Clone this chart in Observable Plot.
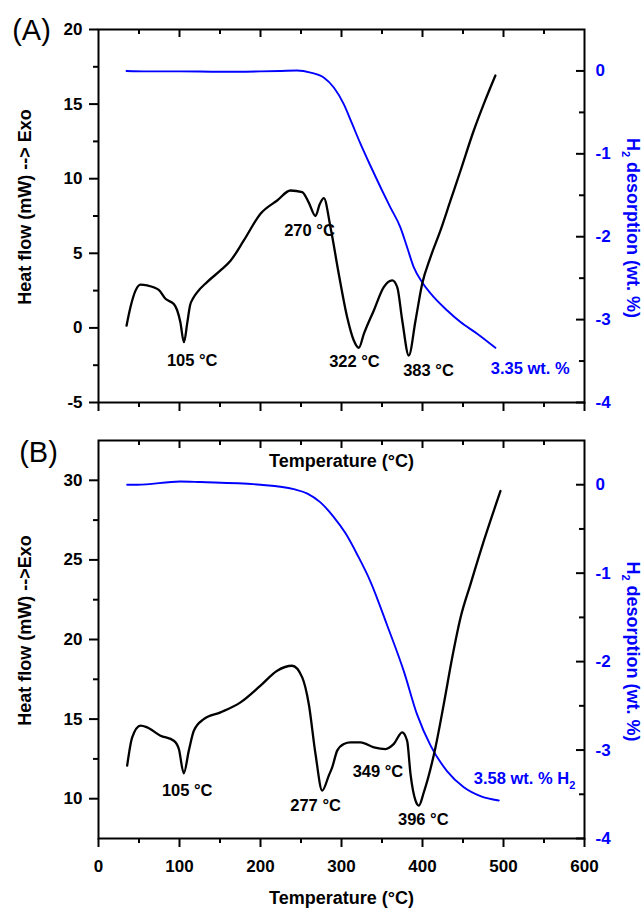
<!DOCTYPE html>
<html><head><meta charset="utf-8">
<script src="https://cdn.jsdelivr.net/npm/d3@7"></script>
<script src="https://cdn.jsdelivr.net/npm/@observablehq/plot@0.6"></script>
<style>
body{margin:0;background:#fff;}
#wrap{position:relative;width:644px;height:908px;}
#wrap svg{position:absolute;left:0;}
</style></head><body><div id="wrap"></div>
<script>
// ---------- Panel A data ----------
const tempA = [34.6, 39.5, 45.7, 51.9, 60, 74.4, 82.7, 93, 97, 101, 105.5, 109.5, 113, 117, 122, 134, 150.6, 163, 179.4, 200, 220.6, 237, 251.5, 259.6, 267.9, 273.2, 278.2, 286.4, 296.7, 307, 315.2, 321.4, 327.6, 339.9, 352.2, 362.6, 368.8, 375, 383.1, 391.4, 399.6, 409.9, 422.2, 434.6, 447, 463.3, 475.7, 490];
const heatA = [0.15, 1.4, 2.5, 2.9, 2.85, 2.55, 1.95, 1.6, 1.2, 0.4, -0.96, 0.3, 1.5, 2.0, 2.4, 3.07, 3.85, 4.5, 5.86, 7.65, 8.54, 9.21, 9.1, 8.4, 7.5, 8.3, 8.7, 6.75, 3.6, 0.72, -0.84, -1.33, -0.4, 1.17, 2.73, 3.18, 2.73, 0.5, -1.85, 0.5, 2.96, 4.74, 6.53, 8.54, 10.55, 13.23, 15.02, 16.92];
const h2TempA = [34.6, 60, 100, 150, 200, 225, 245, 262, 278, 290.5, 302.8, 313.2, 323.5, 336, 348, 360, 372.8, 381.1, 389.3, 399.6, 414, 430.5, 446.9, 467.5, 490];
const h2A = [0, -0.005, -0.005, -0.01, -0.005, 0, 0.005, -0.02, -0.08, -0.2, -0.4, -0.64, -0.88, -1.15, -1.4, -1.64, -1.89, -2.13, -2.37, -2.55, -2.73, -2.89, -3.03, -3.17, -3.34];
const peakTextA = ["105 °C", "270 °C", "322 °C", "383 °C"];
const peakXA = [115.7, 260.5, 316, 407.4];
const peakYA = [-2.2, 6.5, -2.3, -2.85];
const totalTextA = "3.35 wt. %";
const totalXA = 533, totalYA = -2.72;

// ---------- Panel B data ----------
const tempB = [35.4, 41.6, 51.9, 60, 76.5, 93, 99.2, 105.3, 111.5, 117.7, 130, 150.6, 175.3, 200, 220.6, 239, 251.5, 259.6, 267.9, 276.2, 284.3, 288.5, 294.7, 302.9, 311.1, 323.5, 340, 354.3, 364.6, 374.9, 381, 385.2, 391.4, 395.5, 401.6, 416, 426.3, 436.7, 447, 459.3, 475.7, 496.3];
const heatB = [12.08, 13.85, 14.59, 14.48, 13.96, 13.64, 13.12, 11.6, 13.02, 14.27, 15.0, 15.42, 16.05, 17.1, 18.04, 18.35, 17.62, 15.95, 12.81, 10.51, 11.45, 11.97, 13.02, 13.44, 13.54, 13.54, 13.23, 13.12, 13.44, 14.17, 13.64, 11.55, 9.88, 9.57, 10.4, 13.22, 15.95, 18.87, 21.38, 23.48, 26.19, 29.33];
const h2TempB = [35.4, 47.8, 101, 126, 200, 241, 258, 274, 290, 305, 320, 336, 356, 377, 393.4, 410, 430.5, 451, 471.6, 494.2];
const h2B = [0, 0, 0.037, 0.03, 0, -0.05, -0.1, -0.2, -0.36, -0.55, -0.8, -1.1, -1.58, -2.11, -2.6, -2.95, -3.24, -3.42, -3.52, -3.57];
const peakTextB = ["105 °C", "277 °C", "349 °C", "396 °C"];
const peakXB = [109.5, 268, 345, 401];
const peakYB = [10.5, 9.57, 11.72, 8.67];
const totalTextB = "3.58 wt. % H2";
const totalXB = 526, totalYB = 11.24;

// ---------- Axes ----------
const xDomain = [0, 600];
const xMajor = [0, 100, 200, 300, 400, 500, 600];
const xMinor = [50, 150, 250, 350, 450, 550];
const rightDomain = [-4, 0.5];
const rightMajor = [-4, -3, -2, -1, 0];
const rightMinor = [-3.5, -2.5, -1.5, -0.5];
const yDomainA = [-5, 20];
const yMajorA = [-5, 0, 5, 10, 15, 20];
const yMinorA = [-2.5, 2.5, 7.5, 12.5, 17.5];
const yDomainB = [7.5, 32.5];
const yMajorB = [10, 15, 20, 25, 30];
const yMinorB = [12.5, 17.5, 22.5, 27.5];

const FONT = '"Liberation Sans", Arial, Helvetica, sans-serif';
const BLUE = "#0000ff";
const TICK_FS = 17, TITLE_FS = 18, NOTE_FS = 16.5;

function panel(cfg) {
  const W = 644, mL = 98, mR = 60;
  const innerW = W - mL - mR;
  const innerH = cfg.height - cfg.mT - cfg.mB;
  const toLeft = d3.scaleLinear().domain(rightDomain).range(cfg.yDomain);
  const heat = cfg.temp.map((t, i) => ({t, v: cfg.heat[i]}));
  const h2 = cfg.h2t.map((t, i) => ({t, v: cfg.h2[i]}));
  const peaks = cfg.peakText.map((s, i) => ({s, x: cfg.peakX[i], y: cfg.peakY[i]}));
  const center = {textAnchor: "middle", lineAnchor: "middle"};
  const svg = Plot.plot({
    width: W, height: cfg.height,
    marginLeft: mL, marginRight: mR, marginTop: cfg.mT, marginBottom: cfg.mB,
    style: {background: "transparent", fontFamily: FONT, fontSize: TICK_FS + "px", fontWeight: "bold", color: "black"},
    x: {domain: xDomain},
    y: {domain: cfg.yDomain},
    marks: [
      Plot.line(h2, {x: "t", y: d => toLeft(d.v), stroke: BLUE, strokeWidth: 1.9, curve: "monotone-x"}),
      Plot.line(heat, {x: "t", y: "v", stroke: "black", strokeWidth: 2.3, curve: "monotone-x"}),
      // left axis
      Plot.axisY({ticks: cfg.yMajor, tickSize: 9, tickPadding: 7, tickFormat: d => String(d), label: null, strokeWidth: 2, fontSize: TICK_FS, fontWeight: "bold"}),
      Plot.axisY({ticks: cfg.yMinor, tickSize: 5, tickFormat: () => "", label: null, strokeWidth: 2}),
      // bottom axis
      Plot.axisX({ticks: xMajor, tickSize: 9, tickPadding: 12, tickFormat: cfg.xLabels ? (d => String(d)) : (() => ""), label: null, strokeWidth: 2, fontSize: TICK_FS, fontWeight: "bold"}),
      Plot.axisX({ticks: xMinor, tickSize: 5, tickFormat: () => "", label: null, strokeWidth: 2}),
      // top inward ticks
      Plot.tickX(xMajor.slice(1, -1), {x: d => d, insetBottom: innerH - 8, strokeWidth: 2}),
      Plot.tickX(xMinor, {x: d => d, insetBottom: innerH - 5, strokeWidth: 2}),
      // right inward ticks + labels
      Plot.tickY(rightMajor.map(toLeft), {y: d => d, insetLeft: innerW - 8, strokeWidth: 2}),
      Plot.tickY(rightMinor.map(toLeft), {y: d => d, insetLeft: innerW - 5, strokeWidth: 2}),
      Plot.axisY({anchor: "right", ticks: rightMajor.map(toLeft), tickSize: 0, tickPadding: 11,
        tickFormat: d => String(Math.round(toLeft.invert(d))), label: null, color: BLUE, fontSize: TICK_FS, fontWeight: "bold"}),
      Plot.frame({stroke: "black", strokeWidth: 2}),
      // annotations
      Plot.text(peaks, {x: "x", y: "y", text: "s", fontSize: NOTE_FS, fontWeight: "bold", fill: "black"}),
      Plot.text([cfg.totalText], {x: cfg.totalX, y: cfg.totalY, text: d => d, fontSize: NOTE_FS, fontWeight: "bold", fill: BLUE}),
      // titles
      Plot.text([cfg.panel], {frameAnchor: "top-left", ...center, text: d => d, dx: cfg.panelDx, dy: cfg.panelDy, fontSize: 29, fontWeight: "normal"}),
      Plot.text([cfg.leftTitle], {frameAnchor: "left", ...center, text: d => d, rotate: -90, dx: -73, dy: -9, fontSize: TITLE_FS, fontWeight: "bold"}),
      Plot.text(["H2 desorption (wt. %)"], {frameAnchor: "right", ...center, text: d => d, rotate: 90, dx: 48, dy: 12, fontSize: TITLE_FS, fontWeight: "bold", fill: BLUE}),
      Plot.text(["Temperature (°C)"], {frameAnchor: "bottom", ...center, text: d => d, dy: cfg.xTitleDy, fontSize: TITLE_FS, fontWeight: "bold"})
    ]
  });
  // subscripts for H2
  d3.select(svg).selectAll("text").each(function() {
    const t = this.textContent;
    if (t === "H2 desorption (wt. %)") {
      this.innerHTML = 'H<tspan font-size="11" dy="5">2</tspan><tspan dy="-5"> desorption (wt. %)</tspan>';
    } else if (t === "3.58 wt. % H2") {
      this.innerHTML = '3.58 wt. % H<tspan font-size="11" dy="5">2</tspan>';
    }
  });
  svg.style.top = cfg.top + "px";
  return svg;
}

const wrap = document.getElementById("wrap");
wrap.appendChild(panel({
  top: 0, height: 475, mT: 29, mB: 73,
  temp: tempA, heat: heatA, h2t: h2TempA, h2: h2A,
  yDomain: yDomainA, yMajor: yMajorA, yMinor: yMinorA,
  peakText: peakTextA, peakX: peakXA, peakY: peakYA,
  totalText: totalTextA, totalX: totalXA, totalY: totalYA,
  xLabels: false, panel: "(A)", panelDx: -67, panelDy: 1,
  leftTitle: "Heat flow (mW) --> Exo", xTitleDy: 59
}));
wrap.appendChild(panel({
  top: 420, height: 488, mT: 20, mB: 70,
  temp: tempB, heat: heatB, h2t: h2TempB, h2: h2B,
  yDomain: yDomainB, yMajor: yMajorB, yMinor: yMinorB,
  peakText: peakTextB, peakX: peakXB, peakY: peakYB,
  totalText: totalTextB, totalX: totalXB, totalY: totalYB,
  xLabels: true, panel: "(B)", panelDx: -60, panelDy: 12,
  leftTitle: "Heat flow (mW) -->Exo", xTitleDy: 60
}));
</script>
</body></html>
